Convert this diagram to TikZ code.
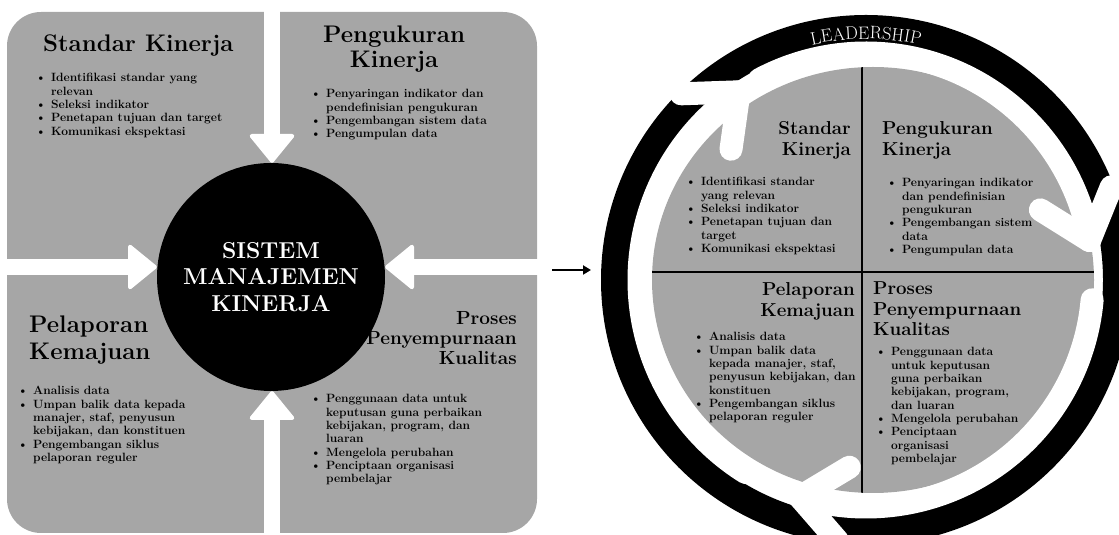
\documentclass[tikz,border=0pt]{standalone}
\usepackage{tikz}
\usetikzlibrary{arrows.meta,calc,decorations.text,positioning}
\definecolor{panelgray}{HTML}{A6A6A6}
\tikzset{%
	panel/.style    = {fill=panelgray, rounded corners=34pt},
	hub/.style      = {circle, fill=black, text=white, minimum size=228pt, inner sep=0pt, align=center, font=\fontsize{23}{26.5}\selectfont\bfseries}, % centre
	fatarrow/.style = {draw=white, line width=16pt, -{Triangle[width=48pt,length=30pt,line width=4pt,round]}},
	ttl/.style      = {inner sep=0pt, font=\fontsize{24}{25}\selectfont\bfseries}, % heading
	ttlsm/.style    = {inner sep=0pt, font=\fontsize{18.7}{20.5}\selectfont\bfseries}, % small heading
	pts/.style      = {inner sep=0pt, font=\fontsize{12}{13.3}\selectfont\bfseries}, % bullet list
	cyc/.style      = {draw=white, line width=23pt, line cap=round, line join=round},
	link/.style     = {line width=2.4pt, -{Triangle[width=9pt,length=8pt]}},
}
\newcommand{\blist}[1]{\begin{tabular}[t]{@{}c@{\hspace{5pt}}l@{}}#1\end{tabular}}
\newcommand{\itm}{\textbullet &}
\newcommand{\rows}[2]{\begin{tabular}[t]{@{}#1@{}}#2\end{tabular}}

\begin{document}
\begin{tikzpicture}[x=1pt,y=1pt]
	\useasboundingbox (0,0) rectangle (1119,535);
	\clip (0,0) rectangle (1119,535);

	% left panel
	\fill[panel] (7,2) rectangle (537,523);
	\node [hub] (smk) at (271,258) {SISTEM\\MANAJEMEN\\KINERJA};
	\coordinate (inT) at (272,535);
	\coordinate (inB) at (272,0);
	\coordinate (inL) at (0,268);
	\coordinate (inR) at (545,268);
	\draw[fatarrow] (inT) -- (inT |- smk.north);
	\draw[fatarrow] (inB) -- (inB |- smk.south);
	\draw[fatarrow] (inL) -- (inL -| smk.west);
	\draw[fatarrow] (inR) -- (inR -| smk.east);

	\node [ttl, anchor=base west] (stdL) at (43,483) {Standar Kinerja};
	\node [pts, anchor=base west] (stdLi) at (35.5,453) {\blist{%
		\itm Identifikasi standar yang\\ & relevan\\
		\itm Seleksi indikator\\
		\itm Penetapan tujuan dan target\\
		\itm Komunikasi ekspektasi}};
	\node [ttl, anchor=base] (ukrL) at (394,492) {\rows{c}{Pengukuran\\Kinerja}};
	\node [pts, anchor=base west] (ukrLi) at (310.5,437) {\blist{%
		\itm Penyaringan indikator dan\\ & pendefinisian pengukuran\\
		\itm Pengembangan sistem data\\
		\itm Pengumpulan data}};
	\node [ttl, font=\fontsize{24}{27}\selectfont\bfseries, anchor=base west] (lapL) at (29,202) {\rows{l}{Pelaporan\\Kemajuan}};
	\node [pts, anchor=base west] (lapLi) at (17.5,140) {\blist{%
		\itm Analisis data\\
		\itm Umpan balik data kepada\\ & manajer, staf, penyusun\\ & kebijakan, dan konstituen\\
		\itm Pengembangan siklus\\ & pelaporan reguler}};
	\node [ttl, font=\fontsize{19}{20}\selectfont\bfseries, anchor=base east] (prsL) at (517,210) {\rows{r}{Proses\\Penyempurnaan\\Kualitas}};
	\node [pts, anchor=base west] (prsLi) at (310.5,132) {\blist{%
		\itm Penggunaan data untuk\\ & keputusan guna perbaikan\\ & kebijakan, program, dan\\ & luaran\\
		\itm Mengelola perubahan\\
		\itm Penciptaan organisasi\\ & pembelajar}};

	% link between the two halves
	\coordinate (fromL) at (552,265);
	\coordinate (toR) at (591,265);
	\draw[link] (fromL) -- (toR);

	% right cycle
	\coordinate (ctr) at (866,255);
	\coordinate (dsc) at (873,255);
	\draw[line width=28pt] (ctr) circle[radius=251pt];
	\fill[panelgray] (dsc) ellipse[x radius=221pt, y radius=213pt];
	\begin{scope}
		\clip (dsc) ellipse[x radius=221pt, y radius=213pt];
		\draw[line width=1.6pt] (862,0) -- (862,535);
		\draw[line width=1.6pt] (600,263) -- (1119,263);
	\end{scope}

	\draw[cyc] ($(ctr)+(118:227pt)$) arc[start angle=118, end angle=10, radius=227pt] coordinate (tipA);
	\draw[cyc] ($(tipA)+(148:58pt)$) -- (tipA) -- ($(tipA)+(68:58pt)$);
	\draw[cyc] ($(ctr)+(-5:227pt)$) arc[start angle=-5, end angle=-107, radius=227pt] coordinate (tipB);
	\draw[cyc] ($(tipB)+(31:58pt)$) -- (tipB) -- ($(tipB)+(-49:58pt)$);
	\draw[cyc] ($(ctr)+(-122:227pt)$) arc[start angle=-122, end angle=-236, radius=227pt] coordinate (tipC);
	\draw[cyc] ($(tipC)+(262:58pt)$) -- (tipC) -- ($(tipC)+(182:58pt)$);

	\path[decorate, decoration={text along path, text align=center, text color=white,
		text={|\fontsize{18}{18}\selectfont|LEADERSHIP}}]
		($(ctr)+(115:241pt)$) arc[start angle=115, end angle=65, radius=241pt];

	\node [ttlsm, anchor=base east] (stdR) at (851,400) {\rows{r}{Standar\\Kinerja}};
	\node [pts, anchor=base west] (stdRi) at (685.4,349) {\blist{%
		\itm Identifikasi standar\\ & yang relevan\\
		\itm Seleksi indikator\\
		\itm Penetapan tujuan dan\\ & target\\
		\itm Komunikasi ekspektasi}};
	\node [ttlsm, anchor=base west] (ukrR) at (882,400) {\rows{l}{Pengukuran\\Kinerja}};
	\node [pts, anchor=base west] (ukrRi) at (886.4,348) {\blist{%
		\itm Penyaringan indikator\\ & dan pendefinisian\\ & pengukuran\\
		\itm Pengembangan sistem\\ & data\\
		\itm Pengumpulan data}};
	\node [ttlsm, anchor=base east] (lapR) at (855,239) {\rows{r}{Pelaporan\\Kemajuan}};
	\node [pts, anchor=base west] (lapRi) at (693.4,194) {\blist{%
		\itm Analisis data\\
		\itm Umpan balik data\\ & kepada manajer, staf,\\ & penyusun kebijakan, dan\\ & konstituen\\
		\itm Pengembangan siklus\\ & pelaporan reguler}};
	\node [ttlsm, anchor=base west] (prsR) at (873,240) {\rows{l}{Proses\\Penyempurnaan\\Kualitas}};
	\node [pts, anchor=base west] (prsRi) at (875.4,179) {\blist{%
		\itm Penggunaan data\\ & untuk keputusan\\ & guna perbaikan\\ & kebijakan, program,\\ & dan luaran\\
		\itm Mengelola perubahan\\
		\itm Penciptaan\\ & organisasi\\ & pembelajar}};
\end{tikzpicture}
\end{document}
